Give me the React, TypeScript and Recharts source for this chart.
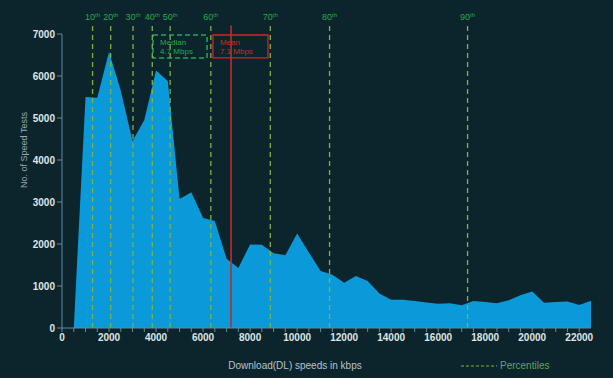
import React from 'react';
import { AreaChart, Area, XAxis, YAxis, ReferenceLine, ReferenceArea } from 'recharts';

const speeds = [500, 1000, 1500, 2000, 2500, 3000, 3500, 4000, 4500, 5000, 5500, 6000, 6500, 7000, 7500, 8000, 8500, 9000, 9500, 10000, 10500, 11000, 11500, 12000, 12500, 13000, 13500, 14000, 14500, 15000, 15500, 16000, 16500, 17000, 17500, 18000, 18500, 19000, 19500, 20000, 20500, 21000, 21500, 22000, 22500];
const tests = [0, 5500, 5480, 6580, 5650, 4450, 4950, 6130, 5880, 3070, 3230, 2620, 2550, 1650, 1430, 1990, 1980, 1780, 1730, 2250, 1800, 1360, 1270, 1080, 1240, 1120, 820, 670, 670, 640, 610, 580, 590, 540, 640, 620, 590, 660, 780, 870, 600, 620, 630, 550, 650];

const percentileNames = ['10', '20', '30', '40', '50', '60', '70', '80', '90'];
const percentileSpeeds = [1300, 2070, 3020, 3840, 4600, 6330, 8860, 11380, 17250];
const meanSpeed = 7190;
const medianLabel = ['Median', '4.7 Mbps'];
const meanLabel = ['Mean', '7.1  Mbps'];

const xTicks = [0, 500, 1000, 1500, 2000, 2500, 3000, 3500, 4000, 4500, 5000, 5500, 6000, 6500, 7000, 7500, 8000, 8500, 9000, 9500, 10000, 10500, 11000, 11500, 12000, 12500, 13000, 13500, 14000, 14500, 15000, 15500, 16000, 16500, 17000, 17500, 18000, 18500, 19000, 19500, 20000, 20500, 21000, 21500, 22000];
const yTicks = [0, 1000, 2000, 3000, 4000, 5000, 6000, 7000];

const data = speeds.map((s, i) => ({ speed: s, tests: tests[i] }));

const BG = '#0c252d';
const FILL = '#0a9ad9';
const AXIS = '#5f8aa3';
const LABEL_GREEN = '#22a84c';
const LINE_GREEN = '#7cb342';
const RED = '#c9282a';
const FONT = '"Liberation Sans Narrow", "Arial Narrow", "Liberation Sans", Arial, sans-serif';

const PctLabel = (name: string) => (props: any) => {
  const vb = props.viewBox || {};
  const x = vb.x ?? 0;
  return (
    <text x={x} y={20} textAnchor="middle" fill={LABEL_GREEN} fontFamily={FONT} fontSize={9}>
      {name}
      <tspan fontSize={6} dy={-3}>th</tspan>
    </text>
  );
};

const BoxLabel = (lines: string[], color: string) => (props: any) => {
  const vb = props.viewBox || {};
  return (
    <text fill={color} fontFamily={FONT} fontSize={8}>
      <tspan x={vb.x + 7} y={vb.y + 10}>{lines[0]}</tspan>
      <tspan x={vb.x + 7} y={vb.y + 19}>{lines[1]}</tspan>
    </text>
  );
};

const xTickFmt = (v: number) => (v % 2000 === 0 ? String(v) : '');

export default function App() {
  return (
    <div style={{ position: 'absolute', left: 0, top: 0, width: 613, height: 378, background: BG }}>
      <AreaChart width={613} height={378} data={data} margin={{ top: 34, right: 22, bottom: 20, left: 20 }}>
        <XAxis
          dataKey="speed"
          type="number"
          domain={[0, 22500]}
          ticks={xTicks}
          interval={0}
          tickFormatter={xTickFmt}
          stroke={AXIS}
          tickSize={4}
          tick={{ fill: '#dfe5e8', fontSize: 10, fontWeight: 'bold', fontFamily: FONT }}
          axisLine={{ stroke: AXIS }}
          tickLine={{ stroke: AXIS }}
          height={30}
        />
        <YAxis
          type="number"
          domain={[0, 7000]}
          ticks={yTicks}
          interval={0}
          width={42}
          tickSize={5}
          tick={{ fill: '#dfe5e8', fontSize: 10, fontWeight: 'bold', fontFamily: FONT }}
          axisLine={{ stroke: AXIS }}
          tickLine={{ stroke: AXIS }}
          allowDataOverflow
        />
        <Area
          type="linear"
          dataKey="tests"
          stroke="none"
          fill={FILL}
          fillOpacity={1}
          isAnimationActive={false}
        />
        {percentileSpeeds.map((s, i) => (
          <ReferenceLine
            key={percentileNames[i]}
            segment={[{ x: s, y: 0 }, { x: s, y: 7200 }]}
            ifOverflow="visible"
            stroke={LINE_GREEN}
            strokeWidth={1.3}
            strokeDasharray="5 4"
            label={PctLabel(percentileNames[i])}
          />
        ))}
        <ReferenceArea
          x1={3870}
          x2={6170}
          y1={6430}
          y2={6976}
          ifOverflow="visible"
          fill={BG}
          fillOpacity={1}
          stroke={LABEL_GREEN}
          strokeWidth={1.5}
          strokeDasharray="5 3"
          label={BoxLabel(medianLabel, LABEL_GREEN)}
        />
        <ReferenceArea
          x1={6420}
          x2={8760}
          y1={6430}
          y2={6976}
          ifOverflow="visible"
          fill={BG}
          fillOpacity={1}
          stroke={RED}
          strokeWidth={1.3}
          label={BoxLabel(meanLabel, RED)}
        />
        <ReferenceLine
          segment={[{ x: meanSpeed, y: 0 }, { x: meanSpeed, y: 7200 }]}
          ifOverflow="visible"
          stroke={RED}
          strokeWidth={1.6}
        />
        <text x={295} y={369} textAnchor="middle" fill="#b9c3c8" fontFamily={FONT} fontSize={10}>
          Download(DL) speeds in kbps
        </text>
        <text
          x={25}
          y={150}
          textAnchor="middle"
          fill="#9aa7ad"
          fontFamily={FONT}
          fontSize={9}
          transform="rotate(-90 25 150)"
          dominantBaseline="middle"
        >
          No. of Speed Tests
        </text>
        <line x1={461} y1={366} x2={497} y2={366} stroke={LINE_GREEN} strokeWidth={1} strokeDasharray="3 2" />
        <text x={500} y={369} fill="#5fa84a" fontFamily={FONT} fontSize={10}>
          Percentiles
        </text>
      </AreaChart>
    </div>
  );
}
